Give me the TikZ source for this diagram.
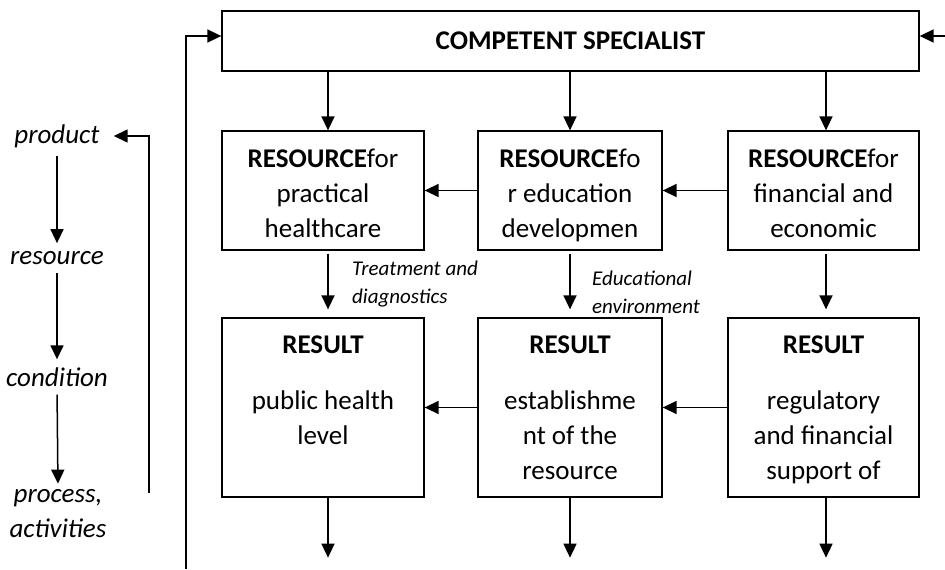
\documentclass[tikz,border=0pt]{standalone}
\usepackage{fontspec}
\setmainfont{Carlito}
\usetikzlibrary{arrows.meta}

\tikzset{
  box/.style={draw, line width=1.3pt, inner sep=0pt},
  boxtext/.style={anchor=north, inner sep=0pt, align=center, font=\fontsize{27}{35}\selectfont},
  side/.style={inner sep=0pt, align=center, font=\fontsize{27}{35}\selectfont\itshape},
  note/.style={anchor=north west, inner sep=0pt, align=left, font=\fontsize{21}{28}\selectfont\itshape},
  arr/.style={line width=1.5pt, -{Triangle[length=14pt,width=13pt]}}
}

\begin{document}
\begin{tikzpicture}[x=1pt,y=-1pt]
\useasboundingbox (0,0) rectangle (945,570);

% top box
\node[box, minimum width=697pt, minimum height=60pt, font=\fontsize{27}{30}\selectfont\bfseries]
  (spec) at (570.5,41) {COMPETENT SPECIALIST};

% resources
\node[box, minimum width=202pt, minimum height=119pt] (res1) at (323,190.5) {};
\node[box, minimum width=184pt, minimum height=119pt] (res2) at (570,190.5) {};
\node[box, minimum width=191pt, minimum height=119pt] (res3) at (823.5,190.5) {};
\node[boxtext] (rt1) at ([yshift=-18.5pt]res1.north) {\textbf{RESOURCE}for\\practical\\healthcare};
\node[boxtext] (rt2) at ([yshift=-18.5pt]res2.north) {\textbf{RESOURCE}fo\\r education\\developmen};
\node[boxtext] (rt3) at ([yshift=-18.5pt]res3.north) {\textbf{RESOURCE}for\\financial and\\economic};

% results
\node[box, minimum width=202pt, minimum height=179pt] (rsl1) at (323,407.5) {};
\node[box, minimum width=184pt, minimum height=179pt] (rsl2) at (570,407.5) {};
\node[box, minimum width=191pt, minimum height=179pt] (rsl3) at (823.5,407.5) {};
\node[boxtext] (st1) at ([yshift=-18.5pt]rsl1.north) {\textbf{RESULT}\\[21pt]public health\\level};
\node[boxtext] (st2) at ([yshift=-18.5pt]rsl2.north) {\textbf{RESULT}\\[21pt]establishme\\nt of the\\resource};
\node[boxtext] (st3) at ([yshift=-18.5pt]rsl3.north) {\textbf{RESULT}\\[21pt]regulatory\\and financial\\support of};

% labels on the arrows
\node[note] (lb1) at (352,260.5) {Treatment and\\diagnostics};
\node[note] (lb2) at (592,270.5) {Educational\\environment};

% left column
\node[side] (prod) at (57,136) {product};
\node[side] (resc) at (57,258) {resource};
\node[side] (cond) at (57,377) {condition};
\node[side] (proc) at (58,514) {process,\\activities};
\coordinate (fb) at (149,493);
\coordinate (lp) at (186,569);
\coordinate (rp) at (945,36);

\draw[arr, shorten <=8pt, shorten >=8pt] (prod.south) -- (resc.north);
\draw[arr, shorten <=8pt, shorten >=8pt] (resc.south) -- (cond.north);
\draw[arr, shorten <=8pt, shorten >=6pt] (cond.south) -- (proc.north);
\draw[arr] (fb) |- ([xshift=14pt]prod.east);

% big loop and right input
\draw[arr] (lp) |- ([yshift=5pt]spec.west);
\draw[arr] (rp) -- (rp -| spec.east);

% top down
\draw[arr] ([xshift=5pt]spec.south -| res1.north) -- ([xshift=5pt]res1.north);
\draw[arr] (spec.south -| res2.north) -- (res2.north);
\draw[arr] ([xshift=2.5pt]spec.south -| res3.north) -- ([xshift=2.5pt]res3.north);

% across
\draw[arr] (res2) -- (res1);
\draw[arr] (res3) -- (res2);
\draw[arr] (rsl2) -- (rsl1);
\draw[arr] (rsl3) -- (rsl2);

% resource to result
\draw[arr, shorten <=3pt, shorten >=8pt] ([xshift=5pt]res1.south) -- ([xshift=5pt]rsl1.north);
\draw[arr, shorten <=3pt, shorten >=8pt] (res2.south) -- (rsl2.north);
\draw[arr, shorten <=3pt, shorten >=8pt] ([xshift=2.5pt]res3.south) -- ([xshift=2.5pt]rsl3.north);

% outputs
\draw[arr] ([xshift=5pt]rsl1.south) -- ++(0,60);
\draw[arr] (rsl2.south) -- ++(0,60);
\draw[arr] ([xshift=2.5pt]rsl3.south) -- ++(0,60);
\end{tikzpicture}
\end{document}
